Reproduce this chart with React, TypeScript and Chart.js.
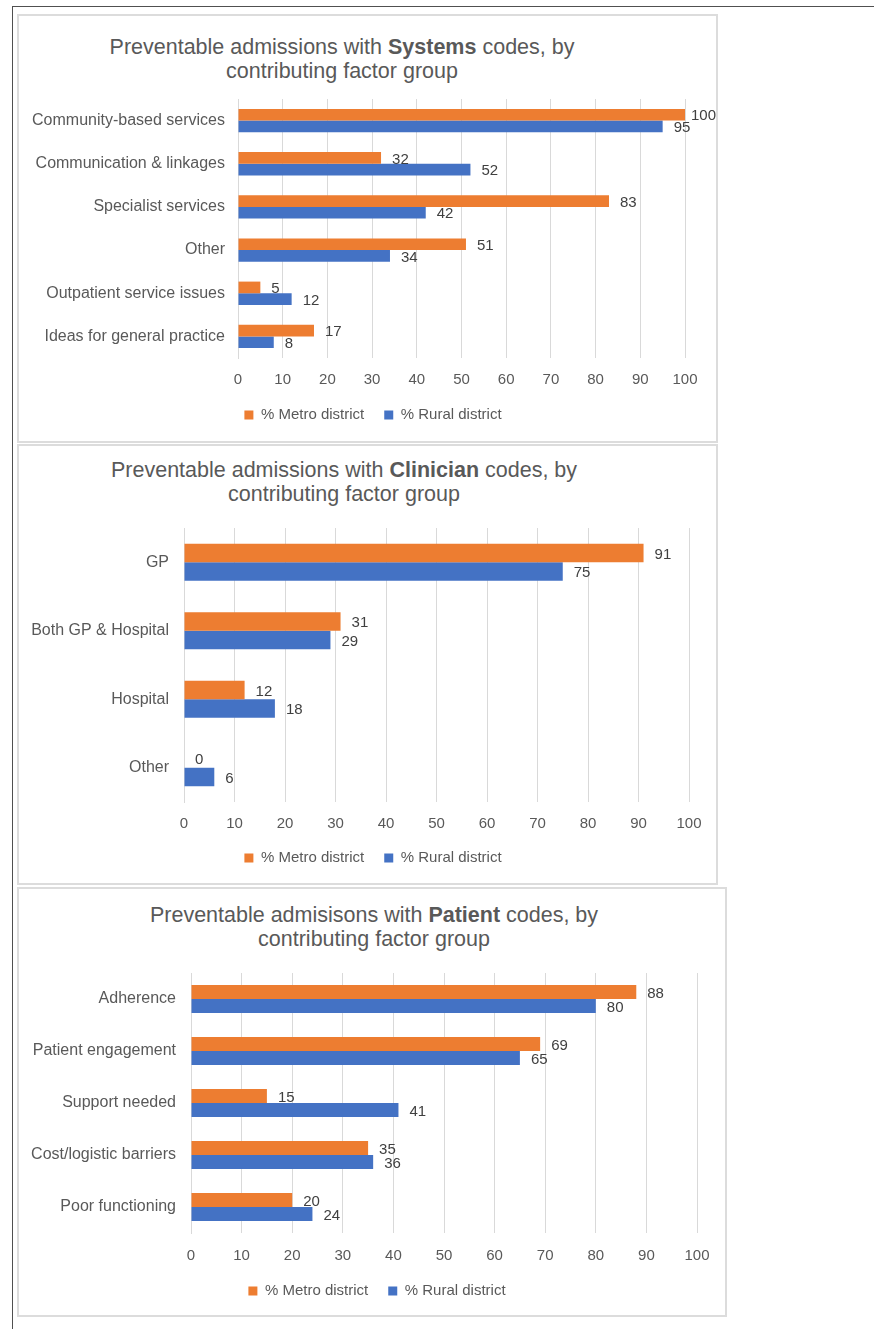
import React, { useEffect, useRef } from "react";
import { Chart, registerables } from "chart.js";

Chart.register(...registerables);

// ---------- data ----------
const seriesNames = ["% Metro district", "% Rural district"];
const seriesColors = ["#ED7D31", "#4472C4"];
const axisMin = 0;
const axisMax = 100;
const axisStep = 10;

const systemsCategories = [
  "Community-based services",
  "Communication & linkages",
  "Specialist services",
  "Other",
  "Outpatient service issues",
  "Ideas for general practice",
];
const systemsMetro = [100, 32, 83, 51, 5, 17];
const systemsRural = [95, 52, 42, 34, 12, 8];

const clinicianCategories = ["GP", "Both GP & Hospital", "Hospital", "Other"];
const clinicianMetro = [91, 31, 12, 0];
const clinicianRural = [75, 29, 18, 6];

const patientCategories = [
  "Adherence",
  "Patient engagement",
  "Support needed",
  "Cost/logistic barriers",
  "Poor functioning",
];
const patientMetro = [88, 69, 15, 35, 20];
const patientRural = [80, 65, 41, 36, 24];

const systemsTitle = ["Preventable admissions with ", "Systems", " codes, by", "contributing factor group"];
const clinicianTitle = ["Preventable admissions with ", "Clinician", " codes, by", "contributing factor group"];
const patientTitle = ["Preventable admisisons with ", "Patient", " codes, by", "contributing factor group"];

// ---------- layout ----------
const FONT = '"Liberation Sans", Arial, sans-serif';
Chart.defaults.font.family = FONT;

type Layout = {
  box: [number, number, number, number];
  titleCX: number;
  titleY: number;
  area: [number, number, number, number];
  labelRight: number;
  tickY: number;
  legendY: number;
  legendCX: number;
};

const systemsLayout: Layout = {
  box: [17, 14, 718, 443],
  titleCX: 342,
  titleY: 47,
  area: [238, 99, 685, 358],
  labelRight: 225,
  tickY: 379,
  legendY: 415,
  legendCX: 373,
};
const clinicianLayout: Layout = {
  box: [17, 444, 718, 885],
  titleCX: 344,
  titleY: 470,
  area: [184, 528, 689, 802],
  labelRight: 169,
  tickY: 823,
  legendY: 858,
  legendCX: 373,
};
const patientLayout: Layout = {
  box: [17, 887, 727, 1317],
  titleCX: 374,
  titleY: 915,
  area: [191, 973, 697, 1233],
  labelRight: 176,
  tickY: 1255,
  legendY: 1291,
  legendCX: 377,
};

const LEGEND_FONT = 15;
const LEGEND_PAD = 20;

const dataLabelPlugin = {
  id: "barValueLabels",
  afterDatasetsDraw(chart: any) {
    const ctx = chart.ctx;
    ctx.save();
    ctx.font = `15px ${FONT}`;
    ctx.fillStyle = "#404040";
    ctx.textAlign = "left";
    ctx.textBaseline = "middle";
    chart.data.datasets.forEach((ds: any, di: number) => {
      const meta = chart.getDatasetMeta(di);
      meta.data.forEach((el: any, i: number) => {
        const txt = String(ds.data[i]);
        const w = ctx.measureText(txt).width;
        const x = Math.min(el.x + 11, chart.width - w);
        ctx.fillText(txt, x, el.y + 1.5);
      });
    });
    ctx.restore();
  },
};

const legendShiftPlugin = {
  id: "legendShift",
  afterLayout(chart: any, _args: any, opts: any) {
    const lg = chart.legend;
    if (!lg || opts.cx == null) return;
    const dx = opts.cx - (lg.left + lg.right) / 2;
    lg.left += dx;
    lg.right += dx;
  },
};

function BarPanel(props: {
  categories: string[];
  metro: number[];
  rural: number[];
  title: string[];
  layout: Layout;
}) {
  const ref = useRef<HTMLCanvasElement | null>(null);
  const { layout } = props;
  const [bx1, by1, bx2, by2] = layout.box;
  const [aL, aT, aR, aB] = layout.area;
  const cwL = bx1 + 2;
  const cwR = bx2 - 2;
  const cwT = aT - 10;
  const cwB = by2 - 2;
  const W = cwR - cwL;
  const H = cwB - cwT;

  useEffect(() => {
    if (!ref.current) return;
    const padTop = aT - cwT;
    const padRight = cwR - aR;
    const padLeft = 0;
    const yAxisW = aL - cwL - padLeft;
    const legendH = LEGEND_FONT + LEGEND_PAD + 10;
    const legendTop = layout.legendY - (LEGEND_PAD + LEGEND_FONT / 2);
    const padBottom = cwB - (legendTop + legendH);
    const xAxisH = legendTop - aB;
    const tickPad = layout.tickY - aB - 8;
    const labelPad = aL - layout.labelRight;

    const chart = new Chart(ref.current, {
      type: "bar",
      data: {
        labels: props.categories,
        datasets: [
          {
            label: seriesNames[0],
            data: props.metro,
            backgroundColor: seriesColors[0],
            borderWidth: 0,
            barPercentage: 1,
            categoryPercentage: 0.54,
          },
          {
            label: seriesNames[1],
            data: props.rural,
            backgroundColor: seriesColors[1],
            borderWidth: 0,
            barPercentage: 1,
            categoryPercentage: 0.54,
          },
        ],
      },
      options: {
        indexAxis: "y",
        animation: false,
        responsive: false,
        devicePixelRatio: 1,
        layout: {
          padding: { top: padTop, right: padRight, left: padLeft, bottom: padBottom },
        },
        scales: {
          x: {
            min: axisMin,
            max: axisMax,
            ticks: {
              stepSize: axisStep,
              padding: tickPad,
              color: "#595959",
              font: { size: 15, family: FONT },
            },
            grid: { color: "#d9d9d9", lineWidth: 1, drawTicks: false },
            border: { display: false },
            afterFit: (s: any) => {
              s.height = xAxisH;
              s.paddingLeft = 0;
              s.paddingRight = 0;
            },
          },
          y: {
            ticks: {
              padding: labelPad,
              color: "#595959",
              font: { size: 16, family: FONT },
            },
            grid: { display: false, drawTicks: false },
            border: { display: true, color: "#d9d9d9", width: 1 },
            afterFit: (s: any) => {
              s.width = yAxisW;
              s.paddingTop = 0;
              s.paddingBottom = 0;
            },
          },
        },
        plugins: {
          legend: {
            position: "bottom",
            labels: {
              boxWidth: 9,
              boxHeight: 9,
              padding: LEGEND_PAD,
              color: "#595959",
              font: { size: LEGEND_FONT, family: FONT },
            },
          },
          legendShift: { cx: layout.legendCX - cwL },
          tooltip: { enabled: false },
          title: { display: false },
        },
      } as any,
      plugins: [dataLabelPlugin, legendShiftPlugin],
    });
    return () => chart.destroy();
  }, []);

  const [pre, bold, post, line2] = props.title;
  return (
    <>
      <div
        style={{
          position: "absolute",
          left: bx1,
          top: by1,
          width: bx2 - bx1,
          height: by2 - by1,
          border: "2px solid #dcdcdc",
          boxSizing: "border-box",
          background: "#fff",
        }}
      />
      <div
        style={{
          position: "absolute",
          left: layout.titleCX - 300,
          width: 600,
          top: layout.titleY - 12.5,
          textAlign: "center",
          fontFamily: FONT,
          fontSize: 21.5,
          lineHeight: "24.5px",
          color: "#595959",
          whiteSpace: "nowrap",
        }}
      >
        {pre}
        <b>{bold}</b>
        {post}
        <br />
        {line2}
      </div>
      <div style={{ position: "absolute", left: cwL, top: cwT, width: W, height: H }}>
        <canvas ref={ref} width={W} height={H} style={{ width: W, height: H, display: "block" }} />
      </div>
    </>
  );
}

export default function App() {
  return (
    <div
      style={{
        position: "absolute",
        left: 0,
        top: 0,
        width: 874,
        height: 1329,
        background: "#fff",
        overflow: "hidden",
      }}
    >
      <div style={{ position: "absolute", left: 12, top: 6, width: 862, height: 1, background: "#505050" }} />
      <div style={{ position: "absolute", left: 12, top: 6, width: 1, height: 1323, background: "#505050" }} />
      <BarPanel
        categories={systemsCategories}
        metro={systemsMetro}
        rural={systemsRural}
        title={systemsTitle}
        layout={systemsLayout}
      />
      <BarPanel
        categories={clinicianCategories}
        metro={clinicianMetro}
        rural={clinicianRural}
        title={clinicianTitle}
        layout={clinicianLayout}
      />
      <BarPanel
        categories={patientCategories}
        metro={patientMetro}
        rural={patientRural}
        title={patientTitle}
        layout={patientLayout}
      />
    </div>
  );
}
